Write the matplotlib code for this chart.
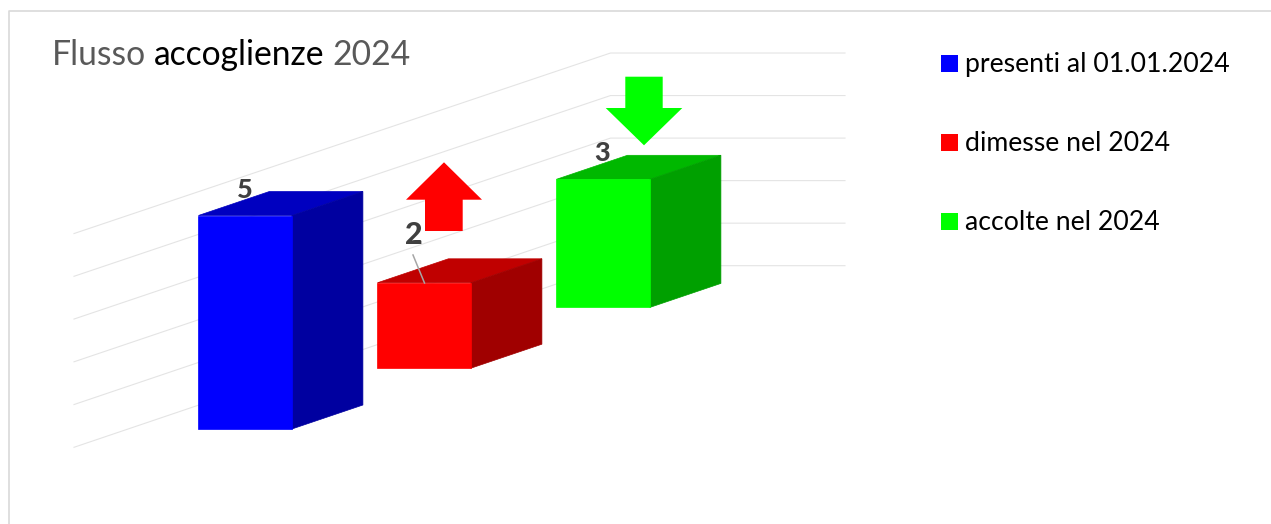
import matplotlib
matplotlib.use("Agg")
import matplotlib.pyplot as plt

categories = ["presenti al 01.01.2024", "dimesse nel 2024", "accolte nel 2024"]
values = [5, 2, 3]
front_colors = ["#0000FF", "#FF0000", "#00FF00"]
top_colors = ["#0000C0", "#C00000", "#00B800"]
side_colors = ["#0000A0", "#A00000", "#00A000"]
grid_values = [0, 1, 2, 3, 4, 5]

plt.rcParams["font.family"] = ["Lato", "DejaVu Sans"]

# px per unit, and the oblique projection of the 3D bars
unit = 42.7
bar_w = 93.5
depth_x, depth_y = 71, -24
step_x, step_y = 179, -60.8
x0, y0 = 198.4, 429


def face(ax, pts, color, z=3):
    xs = [p[0] for p in pts]
    ys = [p[1] for p in pts]
    ax.fill(xs, ys, facecolor=color, edgecolor=color, linewidth=0.5, zorder=z)


fig = plt.figure(figsize=(12.71, 5.24), dpi=100)
ax = fig.add_axes([0, 0, 1, 1])
ax.set_xlim(0, 1271)
ax.set_ylim(524, 0)
ax.axis("off")

# chart frame
ax.plot([9, 9, 1271], [524, 10.5, 10.5], color="#D9D9D9", lw=1.2, zorder=1)

# gridlines: side wall then back wall
for v in grid_values:
    ax.plot([74, 610.5, 845],
            [447.3 - v * 42.75, 265.7 - v * 42.75 * 0.995, 265.7 - v * 42.75 * 0.995],
            color="#E4E4E4", lw=0.8, zorder=2)

# bars
for i, val in enumerate(values):
    left = x0 + i * step_x
    bottom = y0 + i * step_y
    right = left + bar_w
    top = bottom - val * unit
    face(ax, [(left, top), (left + depth_x, top + depth_y),
              (right + depth_x, top + depth_y), (right, top)], top_colors[i])
    face(ax, [(right, bottom), (right + depth_x, bottom + depth_y),
              (right + depth_x, top + depth_y), (right, top)], side_colors[i])
    face(ax, [(left, bottom), (right, bottom), (right, top), (left, top)], front_colors[i], z=4)

# data labels, the red one has a leader line
label_x = [245, 413.5, 602]
label_y = [190, 234.5, 153]
label_size = [19.5, 22, 19.5]
for i, val in enumerate(values):
    ax.text(label_x[i], label_y[i], str(val), color="#404040", fontsize=label_size[i], fontweight=900,
            ha="center", va="center", zorder=6)
ax.plot([413, 424.5], [255, 283], color="#A6A6A6", lw=1.1, zorder=5)

# arrows next to the bars
ax.fill([444, 482, 462.7, 462.7, 425, 425, 406], [162.3, 199.7, 199.7, 231, 231, 199.7, 199.7],
        color="#FF0000", lw=0, zorder=5)
ax.fill([644, 682.3, 662.7, 662.7, 625.3, 625.3, 605.7], [145.3, 108, 108, 76.7, 76.7, 108, 108],
        color="#00FF00", lw=0, zorder=5)

# title in three colours
t1 = ax.text(52, 65, "Flusso", color="#595959", fontsize=24.2, va="baseline", ha="left")
t2 = ax.annotate("accoglienze", xy=(1, 0), xycoords=t1, xytext=(8, 0), textcoords="offset pixels",
                 color="black", fontsize=24.2, va="bottom", ha="left")
ax.annotate("2024", xy=(1, 0), xycoords=t2, xytext=(8, 0), textcoords="offset pixels",
            color="#595959", fontsize=24.2, va="bottom", ha="left")

# legend
legend_y = [64.5, 143.5, 222]
square_y = [63.5, 142.5, 221.5]
for name, col, ly, sy in zip(categories, front_colors, legend_y, square_y):
    ax.fill([941, 958, 958, 941], [sy - 8.5, sy - 8.5, sy + 8.5, sy + 8.5], color=col, lw=0)
    ax.text(965, ly, name, color="black", fontsize=19.2, va="center", ha="left")

fig.savefig("out.png", dpi=100)
